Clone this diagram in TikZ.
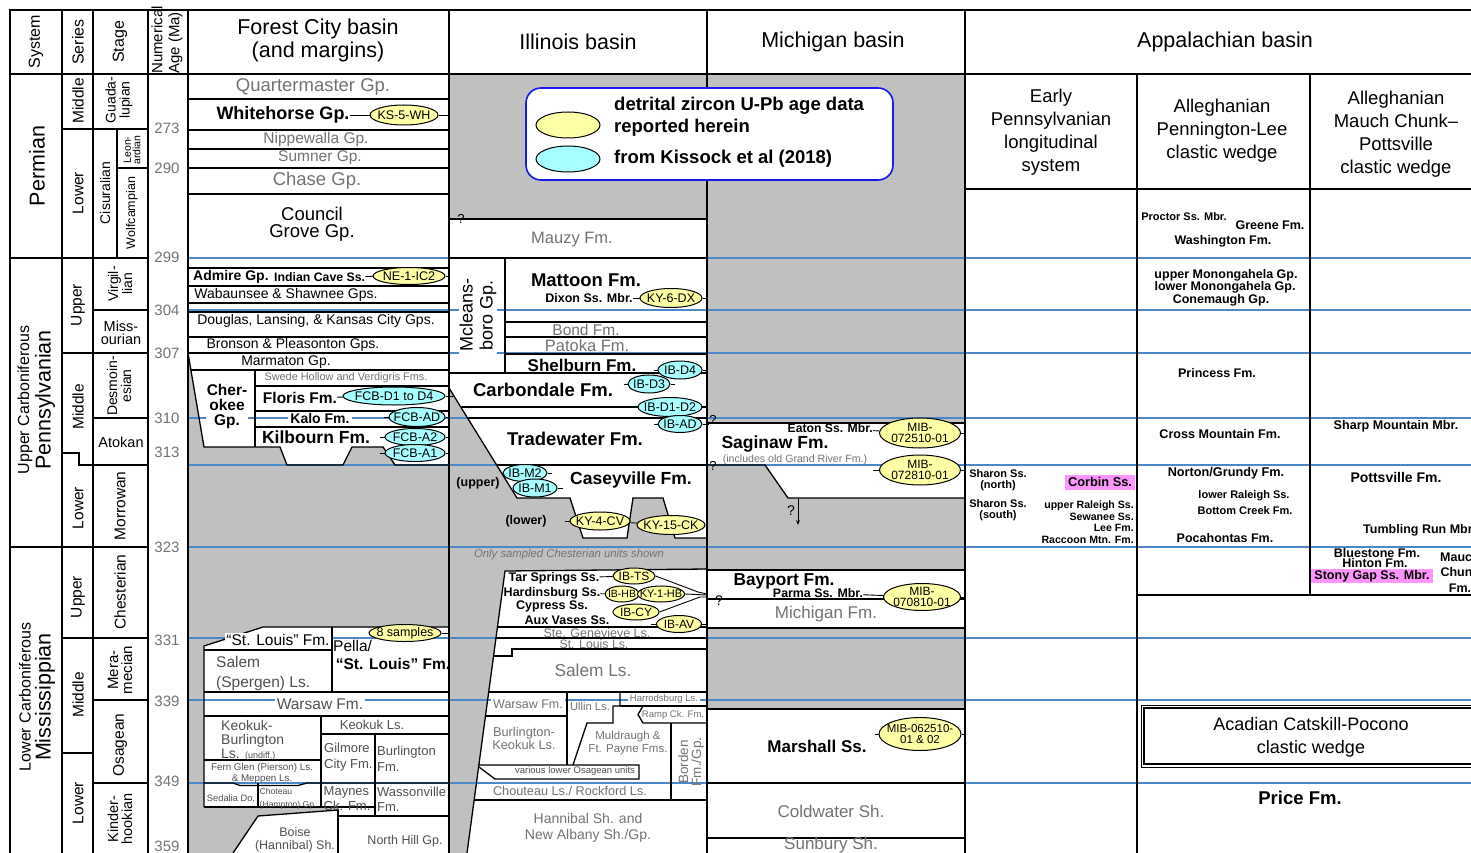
\documentclass[tikz,border=0pt]{standalone}
\usepackage{fontspec}
\setmainfont{Liberation Sans}
\usetikzlibrary{shapes.geometric,arrows.meta}
\definecolor{zgray}{RGB}{192,192,192}
\definecolor{zblue}{RGB}{74,136,200}
\definecolor{zyel}{RGB}{255,255,166}
\definecolor{zcyan}{RGB}{168,255,255}
\definecolor{zpink}{RGB}{255,150,255}
\definecolor{zlt}{RGB}{115,115,115}
\definecolor{zmd}{RGB}{80,80,80}
\definecolor{zleg}{RGB}{25,25,235}
\tikzset{
  bk/.style={draw=black, line width=1.3pt},
  bl/.style={draw=zblue, line width=1.3pt},
  cn/.style={draw=black, line width=0.9pt},
  fs/.style 2 args={font=\fontsize{#1}{#2}\selectfont},
  bfs/.style 2 args={font=\fontsize{#1}{#2}\selectfont\bfseries},
  ifs/.style 2 args={font=\fontsize{#1}{#2}\selectfont\itshape},
  tx/.style={inner sep=0pt, align=center},
  wb/.style={fill=white, inner xsep=2pt, inner ysep=1pt},
  ell/.style={ellipse, draw=black, line width=1pt, inner xsep=-8pt, inner ysep=-3pt},
  ey/.style={ell, fill=zyel},
  ec/.style={ell, fill=zcyan},
}
\begin{document}
\begin{tikzpicture}[x=1pt,y=-1pt]
\useasboundingbox (0,0) rectangle (1471,853);
\fill[white] (0,0) rectangle (1471,853);

% ---------------- gray areas
\fill[zgray] (449,74) -- (965,74) -- (965,423) -- (707,423) -- (707,219) -- (449,219) -- cycle;
\fill[zgray] (188,353) -- (204,447) -- (280,447) -- (287,465) -- (343,465) -- (352,447) -- (383,447) -- (395,465) -- (449,465) -- (449,627) -- (263,627) -- (204,646) -- (204,807) -- (338,807) -- (338,810) -- (258,816) -- (233,853) -- (188,853) -- cycle;
\fill[zgray] (449,388) -- (517,498) -- (570,498) -- (583,538) -- (627,538) -- (633,498) -- (663,498) -- (675,538) -- (707,538) -- (707,570) -- (505,571) -- (467,853) -- (449,853) -- cycle;
\fill[zgray] (707,465) -- (765,465) -- (788,498) -- (965,498) -- (965,570) -- (707,570) -- cycle;
\fill[zgray] (707,628) -- (965,628) -- (965,709) -- (707,709) -- cycle;

% ---------------- blue age lines
\foreach \yy in {258,310,353,418,465,547,638,700,783} {\draw[bl] (188,\yy) -- (1471,\yy);}

% ---------------- frame and time scale
\draw[bk] (10,853) -- (10,10) -- (1471,10);
\draw[bk] (10,74) -- (1471,74);
\foreach \xx in {62,93,148,188,449,707,965} {\draw[bk] (\xx,10) -- (\xx,853);}
\draw[bk] (1137,74) -- (1137,853);
\draw[bk] (1310,74) -- (1310,595);
\draw[bk] (965,189) -- (1471,189);
\draw[bk] (1137,595) -- (1471,595);
\draw[bk] (10,258) -- (62,258);
\draw[bk] (10,547) -- (62,547);
\foreach \yy in {129,258,353,547,638,753} {\draw[bk] (62,\yy) -- (93,\yy);}
\draw[bk] (62,453) -- (79,453) -- (79,465) -- (93,465);
\foreach \yy in {129,258,310,353,418,465,547,638,700,783} {\draw[bk] (93,\yy) -- (148,\yy);}
\draw[bk] (117,129) -- (117,258);
\draw[bk] (117,168) -- (148,168);

% ---------------- Forest City lines
\foreach \yy in {99,130,149,168,194,268,286,303,312,337,353} {\draw[bk] (188,\yy) -- (449,\yy);}
\draw[bk] (188,353) -- (204,447) -- (280,447) -- (287,465) -- (343,465) -- (352,447) -- (383,447) -- (395,465) -- (449,465);
\draw[bk] (191,370) -- (449,370);
\draw[bk] (255,370) -- (255,447);
\foreach \yy in {386,411,427} {\draw[bk] (255,\yy) -- (449,\yy);}
\draw[bk] (204,807) -- (204,646) -- (263,627) -- (449,627);
\draw[bk] (204,650) -- (332,650);
\draw[bk] (332,627) -- (332,692);
\draw[bk] (204,692) -- (449,692);
\draw[bk] (204,716) -- (449,716);
\draw[bk] (321,716) -- (321,807);
\draw[bk] (321,734) -- (449,734);
\draw[bk] (375,734) -- (375,816);
\draw[bk] (204,760) -- (321,760);
\draw[bk] (204,783) -- (233,783) -- (240,785.5) -- (298,785.5) -- (307,783) -- (449,783);
\draw[bk] (258,783) -- (258,807);
\draw[bk] (204,807) -- (375,807);
\draw[bk] (338,816) -- (449,816);
\draw[bk] (338,810) -- (338,853);
\draw[bk] (233,853) -- (258,816) -- (338,810);

% ---------------- Illinois lines
\draw[bk] (449,219) -- (707,219);
\draw[bk] (449,258) -- (707,258);
\draw[bk] (505,258) -- (505,373);
\foreach \yy in {322,337,354} {\draw[bk] (505,\yy) -- (707,\yy);}
\draw[bk] (449,373) -- (707,373);
\draw[bk] (449,388) -- (517,498) -- (570,498) -- (583,538) -- (627,538) -- (633,498) -- (663,498) -- (675,538) -- (707,538);
\draw[bk] (461,407) -- (707,407);
\draw[bk] (468,418) -- (707,418);
\draw[bk] (497,465) -- (707,465);
\draw[bk] (707,569) -- (505,571) -- (467,853);
\draw[bk] (497.5,627) -- (707,627);
\draw[bk] (496,638) -- (707,638);
\draw[bk] (493.5,656) -- (512,656) -- (512,649) -- (707,649);
\draw[bk] (488.7,692) -- (707,692);
\draw[bk] (485.5,716) -- (567,716);
\draw[bk] (567,692) -- (567,765);
\draw[bk] (620,692) -- (620,706) -- (613,706) -- (613,723) -- (587,723) -- (573,765);
\draw[bk] (620,706) -- (707,706);
\draw[bk] (643,706) -- (638,714.5) -- (643,723) -- (707,723);
\draw[bk] (671,723) -- (671,800);
\draw[bk] (479,765) -- (639,765) -- (639,779) -- (495,779) -- (479,767);
\draw[bk] (474,800) -- (707,800);

% ---------------- Michigan lines
\draw[bk] (707,423) -- (965,423);
\draw[bk] (707,465) -- (765,465) -- (788,498) -- (965,498);
\draw[bk] (707,570) -- (965,570);
\draw[bk] (707,599) -- (965,599);
\draw[bk] (707,628) -- (965,628);
\draw[bk] (707,709) -- (965,709);
\draw[bk] (707,783) -- (965,783);
\draw[bk] (707,838) -- (965,838);

% ---------------- Acadian box
\draw[draw=black, line width=0.8pt] (1141,705) rectangle (1480,767);
\draw[draw=black, line width=1.4pt] (1144,708) rectangle (1480,764);

% ---------------- header texts
\node[tx, rotate=90, fs={16}{18}] (hSys) at (36,42) {System};
\node[tx, rotate=90, fs={16}{18}] (hSer) at (78,42) {Series};
\node[tx, rotate=90, fs={16}{18}] (hSta) at (120,42) {Stage};
\node[tx, rotate=90, align=left, fs={15}{17}] (hNum) at (167,40) {Numerical\\Age (Ma)};
\node[tx, fs={21.5}{23}] (hFor) at (318,40) {Forest City basin\\(and margins)};
\node[tx, fs={21.5}{23}] (hIll) at (578,42) {Illinois basin};
\node[tx, fs={21.5}{23}] (hMic) at (833,42) {Michigan basin};
\node[tx, fs={21.5}{23}] (hApp) at (1225,42) {Appalachian basin};
\node[tx, fs={18.5}{23}] (hEP) at (1051,132) {Early\\Pennsylvanian\\longitudinal\\system};
\node[tx, fs={18.5}{23}] (hPL) at (1222,131) {Alleghanian\\Pennington-Lee\\clastic wedge};
\node[tx, fs={18.5}{23}] (hMC) at (1396,134) {Alleghanian\\Mauch Chunk–\\Pottsville\\clastic wedge};

% ---------------- ages
\foreach \yy/\lab in {128/273,168/290,257/299,310/304,353/307,418/310,452/313,547/323,640/331,701/339,781/349,846/359}
  {\node[tx, fs={15}{16}, text=zlt] (age\lab) at (167,\yy) {\lab};}

% ---------------- systems, series, stages
\node[tx, rotate=90, fs={21.5}{23}] (sPerm) at (37,166) {Permian};
\node[tx, rotate=90, fs={16}{18}] (sUC) at (25,400) {Upper Carboniferous};
\node[tx, rotate=90, fs={21.5}{23}] (sPenn) at (45,400) {Pennsylvanian};
\node[tx, rotate=90, fs={16}{18}] (sLC) at (25,697) {Lower Carboniferous};
\node[tx, rotate=90, fs={21.5}{23}] (sMiss) at (45,697) {Mississippian};
\node[tx, rotate=90, fs={15.5}{17}] (r1) at (78,101) {Middle};
\node[tx, rotate=90, fs={15.5}{17}] (r2) at (78,193) {Lower};
\node[tx, rotate=90, fs={15.5}{17}] (r3) at (78,305) {Upper};
\node[tx, rotate=90, fs={15.5}{17}] (r4) at (78,407) {Middle};
\node[tx, rotate=90, fs={15.5}{17}] (r5) at (78,508) {Lower};
\node[tx, rotate=90, fs={15.5}{17}] (r6) at (78,597) {Upper};
\node[tx, rotate=90, fs={15.5}{17}] (r7) at (78,695) {Middle};
\node[tx, rotate=90, fs={15.5}{17}] (r8) at (78,803) {Lower};
\node[tx, rotate=90, fs={14}{14}] (g1) at (119,100) {Guada-\\lupian};
\node[tx, rotate=90, fs={14}{14}] (g2) at (105,193) {Cisuralian};
\node[tx, rotate=90, fs={10.5}{9.5}] (g3) at (132,150) {Leon-\\ardian};
\node[tx, rotate=90, fs={12.5}{13}] (g4) at (132,213) {Wolfcampian};
\node[tx, rotate=90, fs={14}{14}] (g5) at (120,284) {Virgil-\\lian};
\node[tx, fs={14.5}{13.5}] (g6) at (121,333) {Miss-\\ourian};
\node[tx, rotate=90, fs={14}{14}] (g7) at (119,386) {Desmoin-\\esian};
\node[tx, fs={14.5}{15}] (g8) at (121,442) {Atokan};
\node[tx, rotate=90, fs={15.5}{17}] (g9) at (120,506) {Morrowan};
\node[tx, rotate=90, fs={15.5}{17}] (g10) at (120,592) {Chesterian};
\node[tx, rotate=90, fs={15}{14}] (g11) at (120,670) {Mera-\\mecian};
\node[tx, rotate=90, fs={15.5}{17}] (g12) at (120,745) {Osagean};
\node[tx, rotate=90, fs={14.5}{14}] (g13) at (120,819) {Kinder-\\hookian};

% ---------------- Forest City texts
\node[tx, fs={18.5}{20}, text=zlt] (tQm) at (313,87) {Quartermaster Gp.};
\node[tx, bfs={18}{20}] (tWh) at (283,115) {Whitehorse Gp.};
\node[ey, minimum width=68pt, minimum height=20pt, fs={12.5}{13}] (eKS) at (404,115) {KS-5-WH};
\draw[cn] (tWh) -- (eKS);
\draw[cn] (eKS.east) -- (449,115);
\node[tx, fs={15.5}{16}, text=zlt] (tNip) at (316,139) {Nippewalla Gp.};
\node[tx, fs={15.5}{16}, text=zlt] (tSum) at (320,158) {Sumner Gp.};
\node[tx, fs={18.5}{20}, text=zlt] (tCh) at (317,181) {Chase Gp.};
\node[tx, fs={18.5}{17.5}] (tCG) at (312,224) {Council\\Grove Gp.};
\node[tx, bfs={14}{15}, anchor=west] (tAd) at (193,277) {Admire Gp.};
\node[tx, bfs={12.3}{13}, anchor=west] (tIC) at (274,277) {Indian Cave Ss.};
\node[ey, minimum width=72pt, minimum height=17pt, fs={12.5}{13}] (eNE) at (409,276) {NE-1-IC2};
\draw[cn] (tIC) -- (eNE);
\draw[cn] (eNE.east) -- (449,276);
\node[tx, fs={14}{15}] (tWab) at (286,295) {Wabaunsee \& Shawnee Gps.};
\node[tx, fs={14}{15}] (tDoug) at (316,321) {Douglas, Lansing, \& Kansas City Gps.};
\node[tx, fs={14}{15}] (tBron) at (293,345) {Bronson \& Pleasonton Gps.};
\node[tx, fs={14}{15}] (tMar) at (286,362) {Marmaton Gp.};
\node[tx, bfs={15.5}{15}, wb, inner xsep=1pt] (tChe) at (227,406) {Cher-\\okee\\Gp.};
\node[tx, fs={10.9}{12}, text=zlt] (tSwe) at (346,378) {Swede Hollow and Verdigris Fms.};
\node[tx, bfs={15.5}{16}] (tFlo) at (300,398) {Floris Fm.};
\node[ec, minimum width=102pt, minimum height=18pt, fs={12.5}{13}] (eFD) at (394,396) {FCB-D1 to D4};
\draw[cn] (tFlo) -- (eFD);
\draw[cn] (eFD.east) -- (453,396);
\node[tx, bfs={14}{15}, wb] (tKal) at (320,418) {Kalo Fm.};
\node[ec, minimum width=56pt, minimum height=19pt, fs={12.5}{13}] (eFAD) at (417,417) {FCB-AD};
\draw[cn] (eFAD.west) -- ++(-5,0);
\draw[cn] (eFAD.east) -- (449,417);
\node[tx, bfs={17.5}{18}] (tKil) at (316,437) {Kilbourn Fm.};
\node[ec, minimum width=60pt, minimum height=17pt, fs={12.5}{13}] (eFA2) at (415,437) {FCB-A2};
\draw[cn] (eFA2.west) -- ++(-5,0);
\draw[cn] (eFA2.east) -- (449,437);
\node[ec, minimum width=60pt, minimum height=17pt, fs={12.5}{13}] (eFA1) at (415,453) {FCB-A1};
\draw[cn] (eFA1.west) -- ++(-5,0);
\draw[cn] (eFA1.east) -- (449,453);

\node[tx, fs={15.5}{16}, wb, inner xsep=1pt] (tSL) at (278,640) {“St. Louis” Fm.};
\node[tx, fs={15.5}{20}, align=left, anchor=west, text=zmd] (tSalem) at (216,673) {Salem\\(Spergen) Ls.};
\node[tx, fs={15.5}{16}, anchor=west] (tPel) at (333,646) {Pella/};
\node[tx, bfs={15.5}{16}] (tSL2) at (393,664) {“St. Louis” Fm.};
\node[ey, minimum width=72pt, minimum height=17pt, fs={12.5}{13}] (e8) at (405,633) {8 samples};
\draw[cn] (e8.east) -- (449,633);
\node[tx, fs={15.5}{16}, wb, text=zmd] (tWar) at (320,704) {Warsaw Fm.};
\node[tx, fs={14}{14}, align=left, anchor=west, text=zmd] (tKB) at (221,740) {Keokuk-\\Burlington\\Ls. {\fontsize{9}{9}\selectfont (undiff.)}};
\node[tx, fs={13}{14}, text=zmd] (tKeo) at (372,725) {Keokuk Ls.};
\node[tx, fs={13}{15.5}, align=left, anchor=west, text=zmd] (tGil) at (324,757) {Gilmore\\City Fm.};
\node[tx, fs={13}{15.5}, align=left, anchor=west, text=zmd] (tBur) at (377,759) {Burlington\\Fm.};
\node[tx, fs={9.8}{11}, text=zmd] (tFern) at (262,773) {Fern Glen (Pierson) Ls.\\\& Meppen Ls.};
\node[tx, fs={9.3}{10}, text=zmd] (tSed) at (231,798) {Sedalia Do.};
\node[tx, fs={8.6}{12.5}, align=left, anchor=west, text=zmd] (tCho) at (259.5,799) {Choteau\\(Hampton) Gp.};
\node[tx, fs={13}{15}, align=left, anchor=west, text=zmd] (tMay) at (323.5,799) {Maynes\\Ck. Fm.};
\node[tx, fs={13}{15}, align=left, anchor=west, text=zmd] (tWas) at (377,799) {Wassonville\\Fm.};
\node[tx, fs={12.5}{13.5}, text=zmd] (tBoi) at (295,840) {Boise\\(Hannibal) Sh.};
\node[tx, fs={12.5}{13}, text=zmd] (tNH) at (405,841) {North Hill Gp.};

% ---------------- Illinois texts
\node[tx, fs={13}{14}] (tQ1) at (461,219) {?};
\node[tx, fs={16.5}{17}, text=zlt] (tMau) at (572,240) {Mauzy Fm.};
\node[tx, rotate=90, fs={18}{20}, wb] (tMcl) at (478,315) {Mcleans-\\boro Gp.};
\node[tx, bfs={18.5}{19}] (tMat) at (586,280) {Mattoon Fm.};
\node[tx, bfs={12.5}{13}] (tDix) at (589,298) {Dixon Ss. Mbr.};
\node[ey, minimum width=62pt, minimum height=19pt, fs={12.5}{13}] (eKY6) at (671,298) {KY-6-DX};
\draw[cn] (tDix) -- (eKY6);
\draw[cn] (eKY6.east) -- (707,298);
\node[tx, fs={15.5}{16}, text=zlt] (tBond) at (586,330) {Bond Fm.};
\node[tx, fs={16.5}{17}, text=zlt] (tPat) at (587,346) {Patoka Fm.};
\node[tx, bfs={17}{18}] (tShe) at (582,365) {Shelburn Fm.};
\node[ec, minimum width=44pt, minimum height=18pt, fs={12.5}{13}] (eD4) at (680,370) {IB-D4};
\draw[cn] (eD4.west) -- ++(-4,0);
\draw[cn] (eD4.east) -- (707,370);
\node[tx, bfs={18.5}{19}] (tCarb) at (543,390) {Carbondale Fm.};
\node[ec, minimum width=42pt, minimum height=18pt, fs={12.5}{13}] (eD3) at (649,384) {IB-D3};
\draw[cn] (eD3.west) -- ++(-4,0);
\draw[cn] (eD3.east) -- ++(4,0);
\node[ec, minimum width=64pt, minimum height=19pt, fs={12.5}{13}] (eD12) at (670,407) {IB-D1-D2};
\draw[cn] (eD12.east) -- (707,407);
\node[ec, minimum width=44pt, minimum height=17pt, fs={12.5}{13}] (eAD) at (680,424) {IB-AD};
\draw[cn] (eAD.west) -- ++(-4,0);
\draw[cn] (eAD.east) -- (709,424);
\node[tx, fs={13}{14}] (tQ2) at (713,420) {?};
\node[tx, fs={13}{14}] (tQ3) at (713,466) {?};
\node[tx, bfs={18.5}{19}] (tTra) at (575,439) {Tradewater Fm.};
\node[ec, minimum width=44pt, minimum height=17pt, fs={12.5}{13}] (eM2) at (525,473) {IB-M2};
\draw[cn] (eM2.east) -- ++(4,0);
\node[ec, minimum width=44pt, minimum height=18pt, fs={12.5}{13}] (eM1) at (535,488) {IB-M1};
\draw[cn] (eM1.east) -- ++(5,0);
\node[tx, bfs={12.5}{13}] (tUpp) at (478,483) {(upper)};
\node[tx, bfs={17.5}{18}] (tCas) at (631,480) {Caseyville Fm.};
\node[tx, bfs={12.5}{13}] (tLow) at (526,521) {(lower)};
\node[ey, minimum width=60pt, minimum height=18pt, fs={12.5}{13}] (eKY4) at (600,521) {KY-4-CV};
\draw[cn] (eKY4.west) -- ++(-5,0);
\node[ey, minimum width=68pt, minimum height=19pt, fs={12.5}{13}] (eKY15) at (671,525) {KY-15-CK};
\draw[cn] (eKY4) -- (eKY15);
\draw[cn] (eKY15.east) -- (707,525);
\node[tx, ifs={11.3}{12}, text=zlt] (tOnly) at (569,555) {Only sampled Chesterian units shown};

\node[tx, bfs={12.5}{13}] (tTar) at (554,578) {Tar Springs Ss.};
\node[ey, minimum width=42pt, minimum height=16pt, fs={12}{13}] (eTS) at (634,576) {IB-TS};
\node[tx, bfs={12.5}{13}] (tHar) at (552,593) {Hardinsburg Ss.};
\node[ey, minimum width=34pt, minimum height=16pt, fs={10.5}{11}] (eHB) at (622,594) {IB-HB};
\node[ey, minimum width=47pt, minimum height=16pt, fs={11}{12}] (eK1) at (661,594) {KY-1-HB};
\node[tx, bfs={12.5}{13}] (tCyp) at (552,606) {Cypress Ss.};
\node[ey, minimum width=46pt, minimum height=16pt, fs={12}{13}] (eCY) at (636,612) {IB-CY};
\node[tx, bfs={12.5}{13}] (tAux) at (567,620) {Aux Vases Ss.};
\node[ey, minimum width=45pt, minimum height=17pt, fs={12}{13}] (eAV) at (679,624) {IB-AV};
\draw[cn] (tTar) -- (eTS);
\draw[cn] (tHar) -- (eHB);
\draw[cn] (eAV.west) -- ++(-5,0);
\draw[cn] (eTS.east) -- (698,592) -- (707,594);
\draw[cn] (eK1.east) -- (707,595);
\draw[cn] (eCY.east) -- (700,597) -- (707,597);
\draw[cn] (eAV.east) -- (707,624);
\node[tx, fs={12.5}{13}, text=zlt] (tSteG) at (597,633) {Ste. Genevieve Ls.};
\node[tx, fs={12.3}{13}, text=zlt] (tStL) at (594,644) {St. Louis Ls.};
\node[tx, fs={17.3}{18}, text=zlt] (tSalL) at (593,670) {Salem Ls.};
\node[tx, fs={12.5}{13}, text=zlt, wb] (tWar2) at (528,704) {Warsaw Fm.};
\node[tx, fs={11.2}{12}, text=zlt] (tUll) at (590,706) {Ullin Ls.};
\node[tx, fs={9.5}{10}, text=zlt, wb] (tHarr) at (664,699) {Harrodsburg Ls.};
\node[tx, fs={9.5}{10}, text=zlt] (tRamp) at (673,715) {Ramp Ck. Fm.};
\node[tx, fs={12.8}{13}, text=zlt] (tBK) at (524,738) {Burlington-\\Keokuk Ls.};
\node[tx, fs={11.5}{12.5}, text=zlt] (tMul) at (628,743) {Muldraugh \&\\Ft. Payne Fms.};
\node[tx, rotate=90, fs={13.5}{13}, text=zlt] (tBor) at (691,762) {Borden\\Fm./Gp.};
\node[tx, fs={9.5}{10}, text=zmd] (tVar) at (575,771) {various lower Osagean units};
\node[tx, fs={12.7}{13}, text=zlt] (tChou) at (570,791) {Chouteau Ls./ Rockford Ls.};
\node[tx, fs={14}{16}, text=zlt] (tHan) at (588,828) {Hannibal Sh. and\\New Albany Sh./Gp.};

% ---------------- Michigan texts
\node[tx, bfs={12.2}{13}, anchor=east] (tEat) at (873,428.5) {Eaton Ss. Mbr.};
\node[ey, minimum width=81pt, minimum height=30pt, fs={12}{11.5}, align=center] (eMA) at (920,433) {MIB-\\072510-01};
\draw[cn] (tEat) -- (eMA);
\draw[cn] (eMA.east) -- (965,433);
\node[tx, bfs={17.5}{18}] (tSag) at (775,444.5) {Saginaw Fm.};
\node[tx, fs={10.6}{11}, text=zlt] (tInc) at (795,459.5) {(includes old Grand River Fm.)};
\node[ey, minimum width=81pt, minimum height=30pt, fs={12}{11.5}, align=center] (eMB) at (920,470) {MIB-\\072810-01};
\draw[cn] (eMB.west) -- ++(-6,0);
\draw[cn] (eMB.east) -- (965,470);
\node[tx, fs={14}{15}] (tQ4) at (791,511) {?};
\coordinate (qTop) at (798,499);
\coordinate (qBot) at (798,525);
\draw[cn, -{Stealth[length=5pt,width=4pt]}] (qTop) -- (qBot);
\node[tx, bfs={17.3}{18}] (tBay) at (784,581) {Bayport Fm.};
\node[tx, bfs={12.4}{13}] (tPar) at (818,593) {Parma Ss. Mbr.};
\node[ey, minimum width=77pt, minimum height=27pt, fs={12}{11}, align=center] (eMC) at (922,597) {MIB-\\070810-01};
\draw[cn] (tPar) -- (eMC);
\draw[cn] (eMC.east) -- (965,597);
\node[tx, fs={14}{15}] (tQ5) at (719,601) {?};
\node[tx, fs={17}{18}, text=zlt] (tMichF) at (826,614) {Michigan Fm.};
\node[tx, bfs={17}{18}] (tMar2) at (817,746) {Marshall Ss.};
\node[ey, minimum width=82pt, minimum height=33pt, fs={11.5}{11}, align=center] (eMD) at (920,734) {MIB-062510-\\01 \& 02};
\draw[cn] (eMD.west) -- ++(-4,0);
\draw[cn] (eMD.east) -- (965,734);
\node[tx, fs={17}{18}, text=zlt] (tCold) at (831,811) {Coldwater Sh.};
\node[tx, fs={17}{18}, text=zlt] (tSun) at (831,845) {Sunbury Sh.};

% ---------------- legend
\node[draw=zleg, line width=1.6pt, fill=white, rounded corners=15pt, minimum width=367pt, minimum height=92pt, inner sep=0pt] (leg) at (709.5,134) {};
\node[ey, minimum width=64pt, minimum height=26pt] (legY) at (568,125) {};
\node[ec, minimum width=64pt, minimum height=26pt] (legC) at (568,159) {};
\node[tx, bfs={18.5}{20}, anchor=west] (legT1) at (614,106) {detrital zircon U-Pb age data};
\node[tx, bfs={18.5}{20}, anchor=west] (legT2) at (614,128) {reported herein};
\node[tx, bfs={18.5}{20}, anchor=west] (legT3) at (614,159) {from Kissock et al (2018)};

% ---------------- Appalachian texts
\node[tx, bfs={11}{12}] (tPro) at (1184,217) {Proctor Ss. Mbr.};
\node[tx, bfs={12.5}{13}] (tGre) at (1270,225) {Greene Fm.};
\node[tx, bfs={12.5}{13}] (tWas2) at (1223,241) {Washington Fm.};
\node[tx, bfs={12.5}{12}] (tUM) at (1226,275) {upper Monongahela Gp.};
\node[tx, bfs={12.5}{12}] (tLM) at (1225,287) {lower Monongahela Gp.};
\node[tx, bfs={12.5}{12}] (tCon) at (1221,300) {Conemaugh Gp.};
\node[tx, bfs={12.5}{13}] (tPri) at (1217,373) {Princess Fm.};
\node[tx, bfs={12.6}{13}] (tCro) at (1220,434) {Cross Mountain Fm.};
\node[tx, bfs={12.7}{13}] (tNor) at (1226,473) {Norton/Grundy Fm.};
\node[tx, bfs={11}{12}] (tLR) at (1244,496) {lower Raleigh Ss.};
\node[tx, bfs={11}{12}] (tBC) at (1245,511) {Bottom Creek Fm.};
\node[tx, bfs={12.5}{13}] (tPoc) at (1225,538) {Pocahontas Fm.};
\node[tx, bfs={11}{11.4}] (tShN) at (998,480) {Sharon Ss.\\(north)};
\node[tx, bfs={11}{11.4}] (tShS) at (998,510) {Sharon Ss.\\(south)};
\node[tx, bfs={12.8}{13}, fill=zpink, minimum width=70pt, minimum height=15pt] (tCor) at (1100,482) {Corbin Ss.};
\node[tx, bfs={10.6}{11}, anchor=east] (tUR) at (1134,506) {upper Raleigh Ss.};
\node[tx, bfs={10.6}{11}, anchor=east] (tSew) at (1134,517) {Sewanee Ss.};
\node[tx, bfs={10.6}{11}, anchor=east] (tLee) at (1134,528) {Lee Fm.};
\node[tx, bfs={10.6}{11}, anchor=east] (tRac) at (1134,540) {Raccoon Mtn. Fm.};
\node[tx, bfs={12.6}{13}] (tSha) at (1396,426) {Sharp Mountain Mbr.};
\node[tx, bfs={14}{15}] (tPot) at (1396,477) {Pottsville Fm.};
\node[tx, bfs={12.5}{13}, anchor=west] (tTum) at (1363,530) {Tumbling Run Mbr.};
\node[tx, bfs={12.5}{13}] (tBlu) at (1377,553) {Bluestone Fm.};
\node[tx, bfs={12.5}{13}] (tHin) at (1375,563) {Hinton Fm.};
\node[tx, bfs={12.5}{13}, fill=zpink, minimum width=122pt, minimum height=14pt] (tSto) at (1372,576) {Stony Gap Ss. Mbr.};
\node[tx, bfs={12.5}{15.5}] (tMCF) at (1460,572) {Mauch\\Chunk\\Fm.};
\node[tx, fs={18}{22.7}] (tAca) at (1311,737) {Acadian Catskill-Pocono\\clastic wedge};
\node[tx, bfs={18.5}{19}] (tPrice) at (1300,798) {Price Fm.};
\end{tikzpicture}
\end{document}
